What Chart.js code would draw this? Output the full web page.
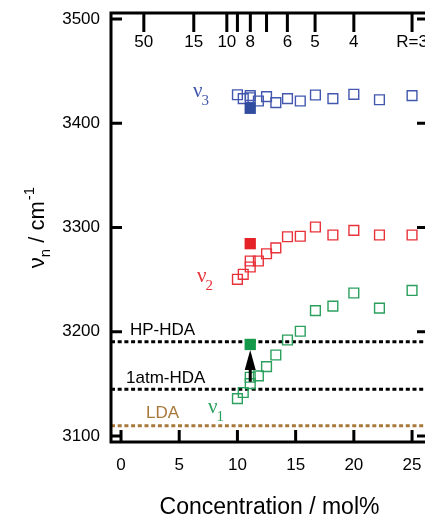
<!DOCTYPE html>
<html>
<head>
<meta charset="utf-8">
<script src="https://cdn.jsdelivr.net/npm/chart.js@4.4.0/dist/chart.umd.min.js"></script>
<style>
  html, body { margin: 0; padding: 0; background: #fff; overflow: hidden; }
  #wrap { width: 425px; height: 518px; overflow: hidden; }
</style>
</head>
<body>
<div id="wrap"><canvas id="chart" width="440" height="518"></canvas></div>
<script>
// === Data ===
// concentration in mol%, shared by the three OH bands
const conc = [10.0, 10.5, 11.1, 11.1, 11.8, 12.5, 13.3, 14.3, 15.4, 16.7, 18.2, 20.0, 22.2, 25.0];
const nu3 = [3427.4, 3423.6, 3426.5, 3424.5, 3421.4, 3425.5, 3419.8, 3423.6, 3421.4, 3427.1, 3423.6, 3427.8, 3422.6, 3426.5];
const nu2 = [3250.3, 3255.1, 3262.1, 3267.9, 3267.9, 3274.8, 3280.5, 3291.1, 3291.6, 3300.5, 3292.8, 3297.3, 3292.8, 3292.8];
const nu1 = [3135.8, 3141.7, 3150.2, 3156.3, 3157.6, 3166.5, 3177.7, 3192.1, 3200.5, 3220.2, 3224.5, 3237.2, 3222.6, 3239.6];

// filled squares (single sample)
const concFilled = [11.1];
const nu3Filled = [3414.4];
const nu2Filled = [3284.5];
const nu1Filled = [3187.8];

// reference levels of the amorphous ices
const refLevels = [3190.5, 3144.8, 3109.9];
const refNames = ["HP-HDA", "1atm-HDA", "LDA"];

// axes
const xTicks = [0, 5, 10, 15, 20, 25];
const yTicks = [3100, 3200, 3300, 3400, 3500];
const rTickConc = [1.96, 6.25, 9.09, 10.0, 11.11, 12.5, 14.29, 16.67, 20.0, 25.0];
const rTickLabels = ["50", "15", "10", "", "8", "", "6", "5", "4", "R=3"];

// arrow (concentration, from, to)
const arrowX = 11.1;
const arrowFrom = 3152;
const arrowTo = 3182.5;

const X_MIN = -0.86, X_MAX = 26.37;
const Y_MIN = 3094.2, Y_MAX = 3505.8;

const BLUE = "#4257ad", RED = "#e8323a", GREEN = "#2aa05c", BROWN = "#a8783a";
const SANS = "'Liberation Sans', Arial, sans-serif";
const SERIF = "'Liberation Serif', 'Times New Roman', serif";

const pts = (xs, ys) => xs.map((x, i) => ({ x, y: ys[i] }));

function openSet(ys, color) {
  return {
    type: "scatter", data: pts(conc, ys), order: 5,
    pointStyle: "rect", pointRadius: 6.9, borderWidth: 1.4,
    borderColor: color, backgroundColor: "rgba(0,0,0,0)"
  };
}
function filledSet(ys, color) {
  return {
    type: "scatter", data: pts(concFilled, ys), order: 1,
    pointStyle: "rect", pointRadius: 8, borderWidth: 0,
    borderColor: color, backgroundColor: color
  };
}
const refColors = ["#000", "#000", BROWN];
const refSets = refLevels.map((lv, i) => ({
  type: "line", data: [{ x: X_MIN, y: lv }, { x: X_MAX, y: lv }], order: 10,
  borderColor: refColors[i], borderWidth: 3, borderDash: [4, 2.7],
  pointRadius: 0, fill: false
}));

// === Frame, inward ticks, annotations ===
const decor = {
  id: "decor",
  afterDatasetsDraw(chart) {
    const { ctx, chartArea: a, scales: { x, y } } = chart;
    ctx.save();
    ctx.strokeStyle = "#000";
    ctx.fillStyle = "#000";
    ctx.lineWidth = 3;

    // inward ticks
    ctx.beginPath();
    yTicks.forEach(v => {
      const py = y.getPixelForValue(v);
      ctx.moveTo(a.left, py); ctx.lineTo(a.left + 11, py);
      ctx.moveTo(a.right, py); ctx.lineTo(a.right - 11, py);
    });
    xTicks.forEach(v => {
      const px = x.getPixelForValue(v);
      ctx.moveTo(px, a.bottom); ctx.lineTo(px, a.bottom - 12);
    });
    rTickConc.forEach(v => {
      const px = x.getPixelForValue(v);
      ctx.moveTo(px, a.top); ctx.lineTo(px, a.top + 19);
    });
    ctx.stroke();
    ctx.strokeRect(a.left, a.top, a.right - a.left, a.bottom - a.top);

    // top R labels
    ctx.font = "17px " + SANS;
    ctx.textAlign = "center";
    ctx.textBaseline = "alphabetic";
    rTickConc.forEach((v, i) => {
      if (rTickLabels[i]) ctx.fillText(rTickLabels[i], x.getPixelForValue(v), 47);
    });

    // reference level names
    ctx.textAlign = "left";
    const namePos = [[0.77, 3196.9], [0.43, 3151.1], [2.15, 3117.0]];
    refNames.forEach((t, i) => {
      ctx.fillStyle = refColors[i];
      ctx.fillText(t, x.getPixelForValue(namePos[i][0]), y.getPixelForValue(namePos[i][1]));
    });

    // band labels
    const nu = (sub, cx, cy, color) => {
      const px = x.getPixelForValue(cx), py = y.getPixelForValue(cy);
      ctx.fillStyle = color;
      ctx.font = "21px " + SERIF;
      ctx.fillText("\u03BD", px, py);
      const w = ctx.measureText("\u03BD").width;
      ctx.font = "15px " + SERIF;
      ctx.fillText(sub, px + w - 1, py + 8);
    };
    nu("3", 6.19, 3425.2, BLUE);
    nu("2", 6.53, 3247.7, RED);
    nu("1", 7.47, 3122.1, GREEN);

    // arrow
    const ax = x.getPixelForValue(arrowX);
    const y0 = y.getPixelForValue(arrowFrom), y1 = y.getPixelForValue(arrowTo);
    ctx.fillStyle = "#000";
    ctx.beginPath();
    ctx.moveTo(ax, y0); ctx.lineTo(ax, y1 + 12);
    ctx.stroke();
    ctx.beginPath();
    ctx.moveTo(ax, y1);
    ctx.lineTo(ax - 5.5, y1 + 20);
    ctx.lineTo(ax + 5.5, y1 + 20);
    ctx.closePath();
    ctx.fill();

    // axis titles
    ctx.fillStyle = "#000";
    ctx.textAlign = "center";
    ctx.font = "23px " + SANS;
    ctx.fillText("Concentration / mol%", (a.left + a.right) / 2, 514);

    ctx.translate(44, 228);
    ctx.rotate(-Math.PI / 2);
    ctx.textAlign = "left";
    ctx.font = "22px " + SANS;
    const wNu = ctx.measureText("\u03BD").width;
    const wCm = ctx.measureText(" / cm").width;
    ctx.font = "15px " + SANS;
    const wN = ctx.measureText("n").width;
    const wSup = ctx.measureText("-1").width;
    let sx = -(wNu + wN + wCm + wSup) / 2;
    ctx.font = "22px " + SANS;
    ctx.fillText("\u03BD", sx, 0); sx += wNu;
    ctx.font = "15px " + SANS;
    ctx.fillText("n", sx, 6); sx += wN;
    ctx.font = "22px " + SANS;
    ctx.fillText(" / cm", sx, 0); sx += wCm;
    ctx.font = "15px " + SANS;
    ctx.fillText("-1", sx + 1, -10);
    ctx.restore();
  }
};

new Chart(document.getElementById("chart"), {
  data: {
    datasets: [
      openSet(nu3, BLUE), openSet(nu2, RED), openSet(nu1, GREEN),
      filledSet(nu3Filled, "#2f4c9e"), filledSet(nu2Filled, "#e52228"), filledSet(nu1Filled, "#14984a"),
      ...refSets
    ]
  },
  options: {
    responsive: false,
    animation: false,
    layout: { padding: { top: 13, right: 12, left: 0, bottom: 0 } },
    plugins: { legend: { display: false }, tooltip: { enabled: false } },
    scales: {
      x: {
        type: "linear", position: "bottom", min: X_MIN, max: X_MAX,
        grid: { display: false }, border: { display: false },
        ticks: { font: { family: SANS, size: 17 }, color: "#000", padding: 5, callback: v => String(v) },
        afterBuildTicks: s => { s.ticks = xTicks.map(v => ({ value: v })); },
        afterFit: s => { s.height = 76; s.paddingLeft = 0; s.paddingRight = 0; }
      },
      y: {
        type: "linear", position: "left", min: Y_MIN, max: Y_MAX,
        grid: { display: false }, border: { display: false },
        ticks: { font: { family: SANS, size: 17 }, color: "#000", padding: 3, callback: v => String(v) },
        afterBuildTicks: s => { s.ticks = yTicks.map(v => ({ value: v })); },
        afterFit: s => { s.width = 111; s.paddingTop = 0; s.paddingBottom = 0; }
      }
    }
  },
  plugins: [decor]
});
</script>
</body>
</html>
